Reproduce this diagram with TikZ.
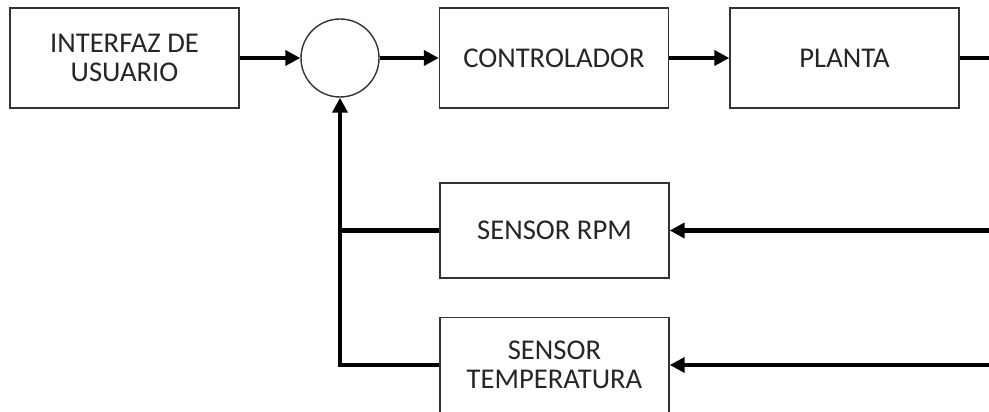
\documentclass[tikz,border=0pt]{standalone}
\usepackage{fontspec}
\setmainfont{Carlito}
\usetikzlibrary{arrows.meta}
\begin{document}
\begin{tikzpicture}[
  every node/.style={font=\fontsize{16.3}{16.5}\selectfont, text=black!85},
  block/.style={rectangle,draw=black!80,line width=0.8pt,minimum width=4.58cm,minimum height=2cm,align=center},
  sumdot/.style={circle,draw=black!80,line width=0.8pt,minimum size=1.56cm,inner sep=0pt},
  wire/.style={line width=2.6pt},
  flow/.style={wire,-{Triangle[length=0.3cm,width=0.3cm]}}]
\useasboundingbox (0,0) rectangle (19.78,-8.24);
\node[block] (ui) at (2.49,-1.16) {INTERFAZ DE\\USUARIO};
\node[sumdot] (sum) at (6.8,-1.16) {};
\node[block] (ctrl) at (11.08,-1.16) {CONTROLADOR};
\node[block] (planta) at (16.89,-1.16) {PLANTA};
\node[block,minimum height=1.9cm] (rpm) at (11.09,-4.61) {SENSOR RPM};
\node[block,minimum height=1.9cm] (temp) at (11.09,-7.3) {SENSOR\\TEMPERATURA};
\coordinate (out) at (19.9,-1.16);
\coordinate (inrpm) at (19.9,-4.61);
\coordinate (intemp) at (19.9,-7.3);
% forward path
\draw[flow] (ui) -- (sum);
\draw[flow] (sum) -- (ctrl);
\draw[flow] (ctrl) -- (planta);
\draw[wire] (planta) -- (out);
% feedback
\draw[flow] (inrpm) -- (rpm);
\draw[flow] (intemp) -- (temp);
\draw[wire] (rpm.west) -- (sum |- rpm.west);
\draw[flow] (temp.west) -| (sum.south);
\end{tikzpicture}
\end{document}
